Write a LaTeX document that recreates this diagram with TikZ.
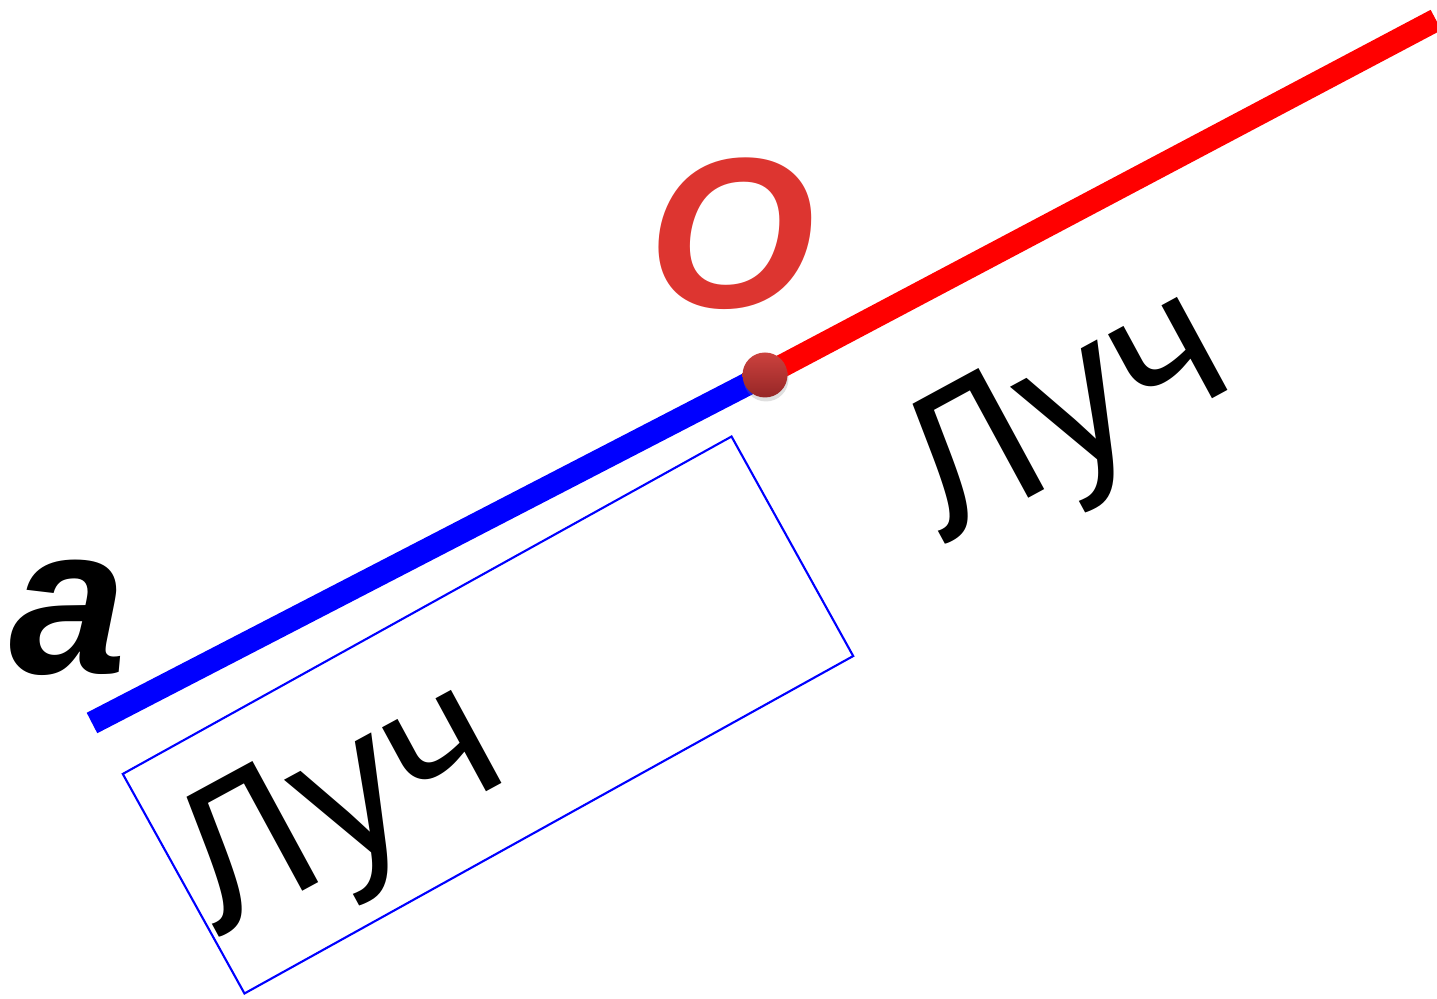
\documentclass[tikz,border=0pt]{standalone}
\usepackage{fontspec}
\setmainfont{Liberation Sans}
\usetikzlibrary{shadows}
\definecolor{rayblue}{RGB}{0,0,255}
\definecolor{rayred}{RGB}{255,0,0}
\definecolor{ptred}{RGB}{221,53,48}
\tikzset{
  ray/.style={line width=0.23cm,line cap=butt},
  bluray/.style={ray,draw=rayblue},
  redray/.style={ray,draw=rayred},
  ptdot/.style={circle,inner sep=0pt,minimum size=0.45cm,top color={rgb,255:red,204;green,66;blue,62},bottom color={rgb,255:red,150;green,38;blue,38},drop shadow={opacity=0.25,shadow xshift=0.01cm,shadow yshift=-0.04cm}},
  bigtxt/.style={font=\fontsize{57}{62}\selectfont,inner sep=0pt},
  ptlbl/.style={font=\fontsize{61}{66}\selectfont\bfseries\itshape,text=ptred,inner sep=0pt},
  linelbl/.style={font=\fontsize{60}{66}\selectfont\bfseries\itshape,inner sep=0pt},
  frm/.style={draw=rayblue,line width=0.6pt,rectangle,minimum width=6.96cm,minimum height=2.51cm,inner sep=0pt}
}
\begin{document}
\begin{tikzpicture}
  \useasboundingbox (0,0) rectangle (14.37,9.99);
  \coordinate (a0) at (0.92,2.76);
  \coordinate (opt) at (7.65,6.24);
  \coordinate (b0) at (14.36,9.79);

  % the two rays
  \draw[bluray] (a0) -- (opt);
  \draw[redray] (opt) -- (b0);
  \node[ptdot] (o) at (opt) {};

  % labels
  \node[ptlbl] (olbl) at (7.32,7.65) {O};
  \node[linelbl] (albl) at (0.68,3.81) {a};
  \node[bigtxt,rotate=28.5,anchor=base] (luch1) at (10.92,5.35) {Луч};

  \node[frm,rotate=29] (frame) at (4.88,2.84) {};
  \node[bigtxt,rotate=28.5,anchor=base] (luch2) at (3.66,1.42) {Луч};
\end{tikzpicture}
\end{document}
